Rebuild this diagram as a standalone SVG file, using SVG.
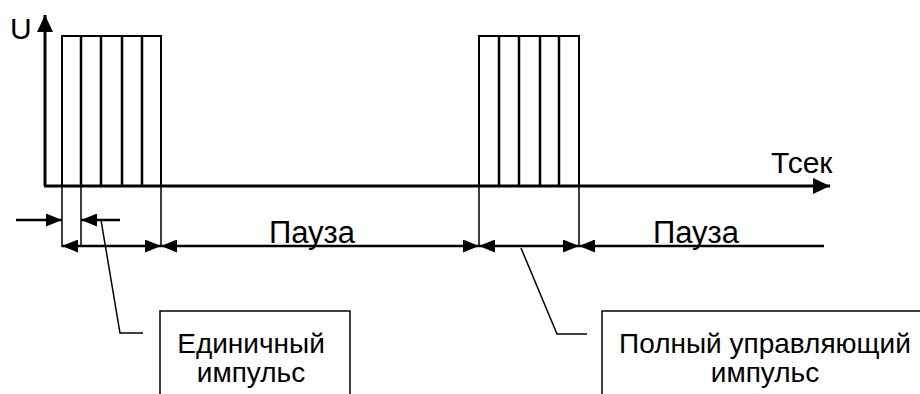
<svg xmlns="http://www.w3.org/2000/svg" width="920" height="394" viewBox="0 0 920 394">
  <style>
    .txt { font-family: "Liberation Sans", Arial, sans-serif; fill: #000; }
    .axis { stroke: #000; stroke-width: 3; fill: none; }
    .pulse { stroke: #000; stroke-width: 2; fill: none; }
    .pulse-in { stroke: #000; stroke-width: 2.5; fill: none; }
    .ext { stroke: #000; stroke-width: 1.5; fill: none; }
    .dim { stroke: #000; stroke-width: 2.5; fill: none; }
    .leader { stroke: #000; stroke-width: 1.5; fill: none; }
    .box { stroke: #000; stroke-width: 1.5; fill: #fff; }
  </style>
  <defs>
    <marker id="dimArrow" markerUnits="userSpaceOnUse" markerWidth="16" markerHeight="13" refX="16" refY="6.5" orient="auto-start-reverse">
      <path d="M0,0 L16,6.5 L0,13 Z" fill="#000"/>
    </marker>
    <marker id="axisArrow" markerUnits="userSpaceOnUse" markerWidth="17" markerHeight="16" refX="17" refY="8" orient="auto">
      <path d="M0,0 L17,8 L0,16 Z" fill="#000"/>
    </marker>
  </defs>

  <g id="axes">
    <line class="axis" x1="45" y1="186" x2="45" y2="15" marker-end="url(#axisArrow)"/>
    <line class="axis" x1="44" y1="186" x2="830" y2="186" marker-end="url(#axisArrow)"/>
    <text class="txt" x="10" y="39" font-size="30">U</text>
    <text class="txt" x="771" y="173" font-size="30">Тсек</text>
  </g>

  <g id="pulse1">
    <polyline class="pulse" points="62,186 62,36 161,36 161,186"/>
    <line class="pulse-in" x1="81" y1="36" x2="81" y2="186"/>
    <line class="pulse-in" x1="101" y1="36" x2="101" y2="186"/>
    <line class="pulse-in" x1="122" y1="36" x2="122" y2="186"/>
    <line class="pulse-in" x1="142" y1="36" x2="142" y2="186"/>
  </g>

  <g id="pulse2">
    <polyline class="pulse" points="479,186 479,36 579,36 579,186"/>
    <line class="pulse-in" x1="499" y1="36" x2="499" y2="186"/>
    <line class="pulse-in" x1="519" y1="36" x2="519" y2="186"/>
    <line class="pulse-in" x1="540" y1="36" x2="540" y2="186"/>
    <line class="pulse-in" x1="559" y1="36" x2="559" y2="186"/>
  </g>

  <g id="connectors">
    <line class="ext" x1="62" y1="186" x2="62" y2="247"/>
    <line class="ext" x1="81" y1="186" x2="81" y2="247"/>
    <line class="ext" x1="161" y1="186" x2="161" y2="247"/>
    <line class="ext" x1="479" y1="186" x2="479" y2="247"/>
    <line class="ext" x1="579" y1="186" x2="579" y2="247"/>

    <line class="dim" x1="16" y1="220" x2="62" y2="220" marker-end="url(#dimArrow)"/>
    <line class="dim" x1="81" y1="220" x2="120" y2="220" marker-start="url(#dimArrow)"/>

    <line class="dim" x1="62" y1="246" x2="161" y2="246" marker-start="url(#dimArrow)" marker-end="url(#dimArrow)"/>
    <line class="dim" x1="161" y1="246" x2="479" y2="246" marker-start="url(#dimArrow)" marker-end="url(#dimArrow)"/>
    <line class="dim" x1="479" y1="246" x2="579" y2="246" marker-start="url(#dimArrow)" marker-end="url(#dimArrow)"/>
    <line class="dim" x1="579" y1="246" x2="824" y2="246" marker-start="url(#dimArrow)"/>

    <polyline class="leader" points="101,220 120,333 143,333"/>
    <polyline class="leader" points="521,248 557,334 587,334"/>
  </g>

  <g id="label-pause1">
    <text class="txt" x="312" y="243" font-size="31" text-anchor="middle">Пауза</text>
  </g>
  <g id="label-pause2">
    <text class="txt" x="696" y="243" font-size="31" text-anchor="middle">Пауза</text>
  </g>

  <g id="box-single">
    <rect class="box" x="160" y="311" width="190" height="100"/>
    <text class="txt" x="251" y="353" font-size="28" text-anchor="middle">Единичный</text>
    <text class="txt" x="251" y="382" font-size="28" text-anchor="middle">импульс</text>
  </g>

  <g id="box-full">
    <rect class="box" x="602" y="311" width="330" height="100"/>
    <text class="txt" x="765" y="353" font-size="28" text-anchor="middle">Полный управляющий</text>
    <text class="txt" x="765" y="382" font-size="28" text-anchor="middle">импульс</text>
  </g>
</svg>
